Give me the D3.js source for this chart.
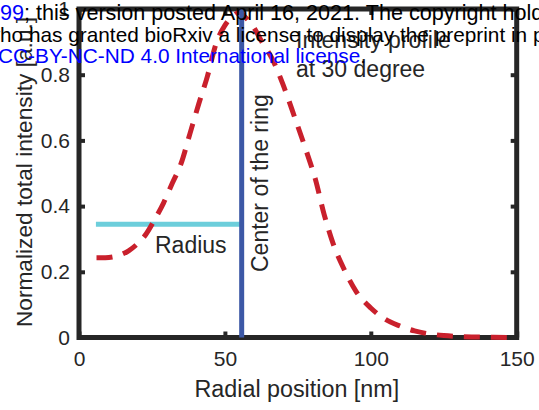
<!DOCTYPE html>
<html>
<head>
<meta charset="utf-8">
<script src="https://cdn.jsdelivr.net/npm/d3@7"></script>
<style>
body{margin:0;background:#fff;}
svg{display:block;font-family:"Liberation Sans",Arial,Helvetica,sans-serif;}
</style>
</head>
<body>
<div id="graph"></div>
<script>
var width=539;
var height=410;

// profile
var radial=[6,9,13,17,20,23,26,29,32,35,38,41,44,47,50,53,55,57,60,63,66,70,74,78,81,84,87,91,95,100,105,110,115,120,125,130,136,142,150];
var intensity=[0.243,0.243,0.248,0.264,0.285,0.315,0.36,0.41,0.47,0.53,0.62,0.71,0.795,0.895,0.95,0.98,0.99,0.975,0.942,0.895,0.852,0.768,0.668,0.565,0.482,0.375,0.288,0.205,0.14,0.09,0.055,0.035,0.02,0.011,0.006,0.003,0.0015,0.0005,0];

var ringCenter=55.75;
var radiusStart=5.8;
var radiusLevel=0.345;

var xTicks=[0,50,100,150];
var xTickLabels=['0','50','100','150'];
var yTicks=[0,0.2,0.4,0.6,0.8,1];
var yTickLabels=['0','0.2','0.4','0.6','0.8','1'];

var pl=79,pr=516.7,pt=9,pb=337.5;
var ink='#262626';

var x=d3.scaleLinear().domain([0,150]).range([pl,pr]);
var y=d3.scaleLinear().domain([0,1]).range([pb,pt]);

var svg=d3.select('#graph').append('svg').attr('width',width).attr('height',height);

// axes box
svg.append('rect').attr('x',pl).attr('y',pt).attr('width',pr-pl).attr('height',pb-pt)
	.attr('fill','none').attr('stroke',ink).attr('stroke-width',5);

function styleAxis(g){
	g.select('.domain').remove();
	g.selectAll('.tick line').attr('stroke',ink).attr('stroke-width',4);
	g.selectAll('.tick text').attr('fill',ink).attr('font-size',21).attr('font-family','"Liberation Sans",Arial,sans-serif');
}

svg.append('g').attr('transform','translate(0,'+pb+')')
	.call(d3.axisBottom(x).tickValues(xTicks).tickFormat(function(d,i){return xTickLabels[i];}).tickSizeInner(-6).tickSizeOuter(0).tickPadding(13.5))
	.call(styleAxis);
svg.append('g').attr('transform','translate(0,'+pt+')')
	.call(d3.axisTop(x).tickValues(xTicks).tickFormat('').tickSizeInner(-6).tickSizeOuter(0))
	.call(styleAxis);
svg.append('g').attr('transform','translate('+pl+',0)')
	.call(d3.axisLeft(y).tickValues(yTicks).tickFormat(function(d,i){return yTickLabels[i];}).tickSizeInner(-6).tickSizeOuter(0).tickPadding(9))
	.call(styleAxis);
svg.append('g').attr('transform','translate('+pr+',0)')
	.call(d3.axisRight(y).tickValues(yTicks).tickFormat('').tickSizeInner(-6).tickSizeOuter(0))
	.call(styleAxis);

// radius marker
svg.append('line').attr('x1',x(radiusStart)).attr('x2',x(ringCenter)).attr('y1',y(radiusLevel)).attr('y2',y(radiusLevel))
	.attr('stroke','#6dcedb').attr('stroke-width',5);

// profile curve
var line=d3.line().x(function(d,i){return x(radial[i]);}).y(function(d){return y(d);}).curve(d3.curveMonotoneX);
svg.append('path').datum(intensity).attr('d',line).attr('fill','none')
	.attr('stroke','#c9202c').attr('stroke-width',5).attr('stroke-dasharray','16,11');

// ring center
svg.append('line').attr('x1',x(ringCenter)).attr('x2',x(ringCenter)).attr('y1',y(0)).attr('y2',y(1))
	.attr('stroke','#3c58a6').attr('stroke-width',5);

// labels
svg.append('text').attr('x',(pl+pr)/2-1).attr('y',397).attr('text-anchor','middle')
	.attr('font-size',23.3).attr('fill',ink).text('Radial position [nm]');
svg.append('text').attr('transform','translate(32,172) rotate(-90)').attr('text-anchor','middle')
	.attr('font-size',22.7).attr('fill',ink).text('Normalized total intensity [a.u.]');

svg.append('text').attr('x',155).attr('y',253).attr('font-size',23).attr('fill',ink).text('Radius');
svg.append('text').attr('transform','translate(268,272) rotate(-90)').attr('font-size',23).attr('fill',ink).text('Center of the ring');
svg.append('text').attr('x',296).attr('y',48).attr('font-size',23).attr('fill',ink).text('Intensity profile');
svg.append('text').attr('x',296).attr('y',77).attr('font-size',23).attr('fill',ink).text('at 30 degree');

// preprint stamp laid over the figure
var wm=svg.append('g').attr('font-size',20.8);
wm.append('text').attr('x',24).attr('y',20).attr('text-anchor','end').attr('fill','#0000ff').attr('font-size',21.6).text('doi.org/10.1101/2021.04.16.440399');
wm.append('text').attr('x',24).attr('y',20).attr('fill','#000').attr('font-size',21.6).text('; this version posted April 16, 2021. The copyright holder for this preprint');
wm.append('text').attr('x',-15).attr('y',41.7).attr('fill','#000').text('who has granted bioRxiv a license to display the preprint in perpetuity. It is made');
wm.append('text').attr('x',-13.5).attr('y',63.3).attr('text-anchor','end').attr('fill','#000').text('available under ');
var l3=wm.append('text').attr('x',-13.5).attr('y',63.3);
l3.append('tspan').attr('fill','#0000ff').text('aCC-BY-NC-ND 4.0 International license');
l3.append('tspan').attr('fill','#000').text('.');
</script>
</body>
</html>
